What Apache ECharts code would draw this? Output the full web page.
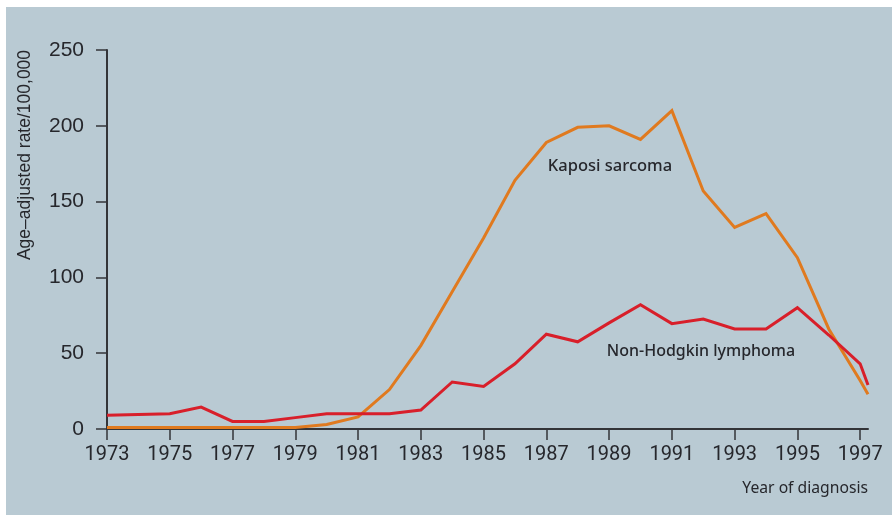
<!DOCTYPE html>
<html>
<head>
<meta charset="utf-8">
<script src="https://cdn.jsdelivr.net/npm/echarts@6/dist/echarts.min.js"></script>
<style>
  html, body { margin: 0; padding: 0; background: #ffffff; }
  #wrap { position: absolute; left: 0; top: 0; width: 892px; height: 515px; background: #ffffff; }
  #chart { position: absolute; left: 6px; top: 7px; width: 886px; height: 508px; background: #b9cad3; }
</style>
</head>
<body>
<div id="wrap"><div id="chart"></div></div>
<script>
// Year of diagnosis (the last entry is the early-1997 end point of the curves)
const years = [1973, 1974, 1975, 1976, 1977, 1978, 1979, 1980, 1981, 1982, 1983, 1984, 1985,
               1986, 1987, 1988, 1989, 1990, 1991, 1992, 1993, 1994, 1995, 1996, 1997, 1997.25];

// Age-adjusted incidence per 100,000
const kaposiSarcoma = [1, 1, 1, 1, 1, 1, 1, 3, 8, 26, 55, 90.5, 126,
                       164, 189, 199, 200, 191, 210, 157, 133, 142, 113, 66, 32, 23];
const nonHodgkinLymphoma = [9, 9.5, 10, 14.5, 5, 5, 7.5, 10, 10, 10, 12.5, 31, 28,
                            43, 62.5, 57.5, 70, 82, 69.5, 72.5, 66, 66, 80, 62, 43, 29];

// Labelled years on the horizontal axis
const yearTicks = [1973, 1975, 1977, 1979, 1981, 1983, 1985, 1987, 1989, 1991, 1993, 1995, 1997];
// Rate ticks on the vertical axis
const rateTicks = [0, 50, 100, 150, 200, 250];

const pairs = (xs, ys) => xs.map((x, i) => [x, ys[i]]);

const axisColor = '#333438';
const textColor = '#26272c';

const chart = echarts.init(document.getElementById('chart'), null, { renderer: 'canvas' });

chart.setOption({
  backgroundColor: 'transparent',
  animation: false,
  grid: { left: 101, right: 24, top: 43, bottom: 86 },
  xAxis: {
    type: 'value',
    min: years[0],
    max: years[years.length - 1],
    splitLine: { show: false },
    axisLine: { show: true, onZero: false, lineStyle: { color: axisColor, width: 2 } },
    axisTick: { show: true, length: 11, customValues: yearTicks, lineStyle: { color: axisColor, width: 1.5 } },
    axisLabel: {
      customValues: yearTicks,
      margin: 16,
      color: textColor,
      fontFamily: 'Roboto',
      fontSize: 20,
      formatter: v => String(v)
    }
  },
  yAxis: {
    type: 'value',
    min: rateTicks[0],
    max: rateTicks[rateTicks.length - 1],
    interval: 50,
    splitLine: { show: false },
    axisLine: { show: true, lineStyle: { color: axisColor, width: 2 } },
    axisTick: { show: true, length: 11, lineStyle: { color: axisColor, width: 1.5 } },
    axisLabel: {
      margin: 23,
      color: textColor,
      fontFamily: 'Liberation Sans',
      fontSize: 21
    }
  },
  graphic: [
    {
      type: 'text',
      x: 19, y: 148,
      rotation: Math.PI / 2,
      style: {
        text: 'Age\u2013adjusted rate/100,000',
        fill: textColor,
        font: '17.5px "Liberation Sans"',
        align: 'center',
        verticalAlign: 'middle'
      }
    },
    {
      type: 'text',
      x: 862, y: 482,
      style: {
        text: 'Year of diagnosis',
        fill: textColor,
        font: '15.7px "Noto Sans"',
        align: 'right',
        verticalAlign: 'middle'
      }
    },
    {
      type: 'text',
      x: 604, y: 159,
      style: {
        text: 'Kaposi sarcoma',
        fill: textColor,
        font: '500 16.5px "Noto Sans"',
        align: 'center',
        verticalAlign: 'middle'
      }
    },
    {
      type: 'text',
      x: 695, y: 344,
      style: {
        text: 'Non-Hodgkin lymphoma',
        fill: textColor,
        font: '500 16px "Noto Sans"',
        align: 'center',
        verticalAlign: 'middle'
      }
    }
  ],
  series: [
    {
      name: 'Kaposi sarcoma',
      type: 'line',
      data: pairs(years, kaposiSarcoma),
      showSymbol: false,
      symbol: 'none',
      lineStyle: { color: '#e07a1f', width: 3, join: 'miter' },
      z: 3
    },
    {
      name: 'Non-Hodgkin lymphoma',
      type: 'line',
      data: pairs(years, nonHodgkinLymphoma),
      showSymbol: false,
      symbol: 'none',
      lineStyle: { color: '#d81f2a', width: 3, join: 'miter' },
      z: 4
    }
  ]
});
</script>
</body>
</html>
